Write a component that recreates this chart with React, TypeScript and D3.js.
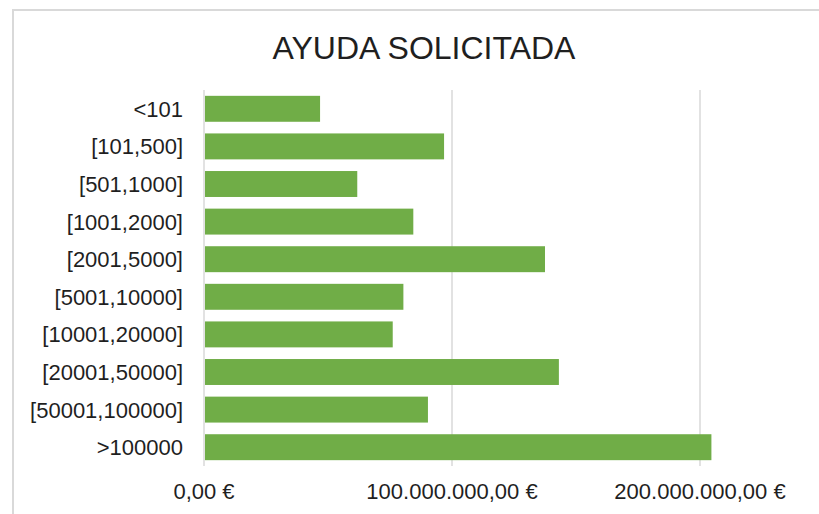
import React from "react";
import * as d3 from "d3";

const categories = [
  "<101",
  "[101,500]",
  "[501,1000]",
  "[1001,2000]",
  "[2001,5000]",
  "[5001,10000]",
  "[10001,20000]",
  "[20001,50000]",
  "[50001,100000]",
  ">100000",
];
const values = [
  46.8e6, 96.8e6, 61.8e6, 84.4e6, 137.5e6, 80.4e6, 76.1e6, 143.1e6, 90.3e6, 204.6e6,
];
const tickValues = [0, 100e6, 200e6];
const tickLabels = ["0,00 €", "100.000.000,00 €", "200.000.000,00 €"];
const title = "AYUDA SOLICITADA";

export default function App() {
  const W = 819;
  const H = 514;
  const x = d3.scaleLinear().domain([0, 250e6]).range([204, 824]);
  const y = d3
    .scaleBand<string>()
    .domain(categories)
    .range([90, 466])
    .paddingInner(0.31)
    .paddingOuter(0.155);
  const font = "'Liberation Sans', Arial, sans-serif";
  const textColor = "#1f1f1f";
  return (
    <svg
      width={W}
      height={H}
      style={{ position: "absolute", left: 0, top: 0, display: "block", background: "#fff" }}
    >
      <rect x={13} y={10} width={830} height={530} fill="#fff" stroke="#d9d9d9" strokeWidth={2} />
      <text
        x={424}
        y={59}
        textAnchor="middle"
        fontFamily={font}
        fontSize={32}
        fill={textColor}
      >
        {title}
      </text>
      {tickValues.map((t) => (
        <line
          key={"g" + t}
          x1={x(t)}
          x2={x(t)}
          y1={90}
          y2={466}
          stroke="#d9d9d9"
          strokeWidth={1.5}
        />
      ))}
      {categories.map((c, i) => (
        <rect
          key={c}
          x={x(0) + 1}
          y={y(c)!}
          width={x(values[i]) - x(0) - 1}
          height={y.bandwidth()}
          fill="#70AD47"
        />
      ))}
      {categories.map((c) => (
        <text
          key={"l" + c}
          x={183}
          y={y(c)! + y.bandwidth() / 2}
          dy="0.36em"
          textAnchor="end"
          fontFamily={font}
          fontSize={22}
          fill={textColor}
        >
          {c}
        </text>
      ))}
      {tickValues.map((t, i) => (
        <text
          key={"t" + t}
          x={x(t)}
          y={499}
          textAnchor="middle"
          fontFamily={font}
          fontSize={22}
          fill={textColor}
        >
          {tickLabels[i]}
        </text>
      ))}
    </svg>
  );
}
